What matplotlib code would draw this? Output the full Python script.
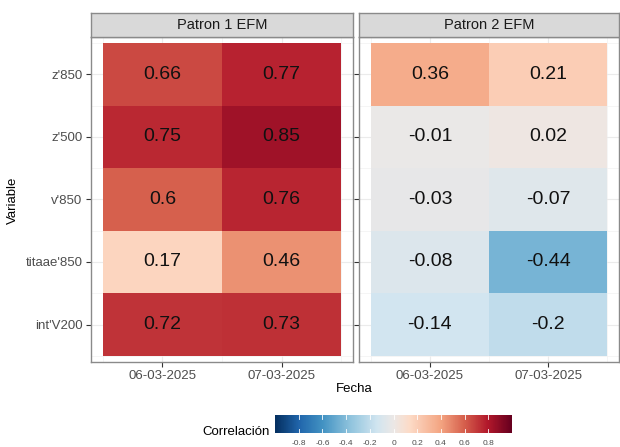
import matplotlib
matplotlib.use("Agg")
import matplotlib.pyplot as plt
import numpy as np
from matplotlib.colors import LinearSegmentedColormap, Normalize

plt.rcParams['font.family'] = ['Liberation Sans', 'DejaVu Sans']

# ---- data ----
variables = ["z'850", "z'500", "v'850", "titaae'850", "int'V200"]
fechas = ["06-03-2025", "07-03-2025"]
patrones = ["Patron 1 EFM", "Patron 2 EFM"]
p1_0603 = [0.66, 0.75, 0.6, 0.17, 0.72]
p1_0703 = [0.77, 0.85, 0.76, 0.46, 0.73]
p2_0603 = [0.36, -0.01, -0.03, -0.08, -0.14]
p2_0703 = [0.21, 0.02, -0.07, -0.44, -0.2]
cbar_ticks = [-0.8, -0.6, -0.4, -0.2, 0, 0.2, 0.4, 0.6, 0.8]
cbar_labels = ["-0.8", "-0.6", "-0.4", "-0.2", "0", "0.2", "0.4", "0.6", "0.8"]

panels = [(p1_0603, p1_0703), (p2_0603, p2_0703)]

# RdBu (reversed) brewer palette, slightly greyish middle
rdbu_cols = ["#053061", "#2166AC", "#4393C3", "#92C5DE", "#D1E5F0", "#ECE8E6",
             "#FDDBC7", "#F4A582", "#D6604D", "#B2182B", "#67001F"]
rdbu_pos = [0.0, 0.1, 0.2, 0.32, 0.43, 0.5, 0.57, 0.7, 0.8, 0.9, 1.0]
cmap = LinearSegmentedColormap.from_list("rdbu", list(zip(rdbu_pos, rdbu_cols)))
norm = Normalize(vmin=-1, vmax=1)

W, H = 620, 447
fig = plt.figure(figsize=(W / 100, H / 100), dpi=100)

def fx(px):
    return px / W

def fy(py):
    return 1 - py / H

border_col = "#8a8a8a"
tick_col = "#4d4d4d"

panel_x = [(91, 353), (359, 619)]
ptop, pbot = 37, 362
stop = 12.5

n = len(variables)
for k, (x0, x1) in enumerate(panel_x):
    ax = fig.add_axes([fx(x0), fy(pbot), fx(x1 - x0), (pbot - ptop) / H])
    vals = np.array([panels[k][0], panels[k][1]]).T  # rows=variables, cols=fechas
    vals_plot = vals[::-1]  # bottom row first
    ax.pcolormesh(np.arange(-0.5, len(fechas)), np.arange(-0.5, n), vals_plot,
                  cmap=cmap, norm=norm, shading='flat', antialiased=False,
                  zorder=2)
    for i in range(n):
        for j in range(len(fechas)):
            v = vals[i, j]
            ax.text(j, n - 1 - i, f"{v:g}", ha='center', va='center',
                    fontsize=14, color='#111111', zorder=3)
    ax.set_xlim(-0.6, len(fechas) - 0.4)
    ax.set_ylim(-0.6, n - 0.4)
    ax.set_xticks(range(len(fechas)))
    ax.set_xticklabels(fechas)
    ax.set_yticks(range(n))
    if k == 0:
        ax.set_yticklabels(variables[::-1])
    else:
        ax.set_yticklabels([])
        ax.tick_params(axis='y', length=0)
    ax.set_xticks(np.arange(-0.5, len(fechas)), minor=True)
    ax.set_yticks(np.arange(-0.5, n), minor=True)
    ax.grid(True, which='major', color='#ebebeb', lw=0.8, zorder=0)
    ax.grid(True, which='minor', color='#f2f2f2', lw=0.5, zorder=0)
    ax.tick_params(axis='both', which='minor', length=0)
    ax.tick_params(axis='both', which='major', labelsize=9.5, colors='#333333',
                   labelcolor=tick_col, length=3.5, width=0.8, pad=2.5)
    for s in ax.spines.values():
        s.set_color(border_col)
        s.set_linewidth(1.0)
    ax.set_axisbelow(True)

    # strip
    sax = fig.add_axes([fx(x0), fy(ptop), fx(x1 - x0), (ptop - stop) / H])
    sax.set_xticks([])
    sax.set_yticks([])
    sax.set_facecolor('#d9d9d9')
    for s in sax.spines.values():
        s.set_color(border_col)
        s.set_linewidth(1.0)
    sax.text(0.5, 0.5, patrones[k], ha='center', va='center',
             fontsize=10.5, color='#1a1a1a', transform=sax.transAxes)

# axis titles
fig.text(fx(354), fy(389), "Fecha", ha='center', va='center', fontsize=9.5,
         color='black')
fig.text(fx(13), fy(200), "Variable", ha='center', va='center', fontsize=9.5,
         rotation=90, color='black')

# colorbar
cx0, cx1, cy0, cy1 = 275, 512, 415, 433
cax = fig.add_axes([fx(cx0), fy(cy1), fx(cx1 - cx0), (cy1 - cy0) / H])
grad = np.linspace(-1, 1, 400).reshape(1, -1)
cax.imshow(grad, cmap=cmap, norm=norm, aspect='auto', extent=(-1, 1, 0, 1))
cax.set_xlim(-1, 1)
cax.set_ylim(0, 1)
for t in cbar_ticks:
    cax.plot([t, t], [0, 0.2], color='white', lw=0.6)
    cax.plot([t, t], [0.8, 1], color='white', lw=0.6)
cax.set_yticks([])
cax.set_xticks(cbar_ticks)
cax.set_xticklabels(cbar_labels)
cax.tick_params(axis='x', length=0, labelsize=6, labelcolor=tick_col, pad=5)
for s in cax.spines.values():
    s.set_visible(False)
fig.text(fx(270), fy(432), "Correlación", ha='right', va='center',
         fontsize=9.5, color='black')

fig.savefig("out.png", dpi=100)
